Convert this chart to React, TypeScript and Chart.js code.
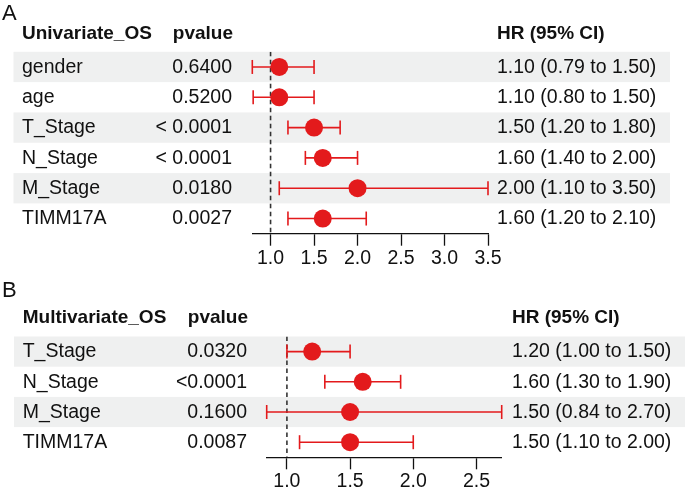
import React, { useEffect, useRef } from 'react';
import { Chart, registerables } from 'chart.js';
Chart.register(...registerables);

// ---------- Panel A data ----------
const labelsA = ['gender', 'age', 'T_Stage', 'N_Stage', 'M_Stage', 'TIMM17A'];
const pvaluesA = ['0.6400', '0.5200', '< 0.0001', '< 0.0001', '0.0180', '0.0027'];
const hrA = [1.1, 1.1, 1.5, 1.6, 2.0, 1.6];
const lowerA = [0.79, 0.8, 1.2, 1.4, 1.1, 1.2];
const upperA = [1.5, 1.5, 1.8, 2.0, 3.5, 2.1];
const tickValuesA = [1.0, 1.5, 2.0, 2.5, 3.0, 3.5];
const tickLabelsA = ['1.0', '1.5', '2.0', '2.5', '3.0', '3.5'];

// ---------- Panel B data ----------
const labelsB = ['T_Stage', 'N_Stage', 'M_Stage', 'TIMM17A'];
const pvaluesB = ['0.0320', '<0.0001', '0.1600', '0.0087'];
const hrB = [1.2, 1.6, 1.5, 1.5];
const lowerB = [1.0, 1.3, 0.84, 1.1];
const upperB = [1.5, 1.9, 2.7, 2.0];
const tickValuesB = [1.0, 1.5, 2.0, 2.5];
const tickLabelsB = ['1.0', '1.5', '2.0', '2.5'];

const RED = '#E31A1C';
const BAND = '#EFF0F0';
const TEXT = '#111111';
const FONT = '"Liberation Sans", Arial, Helvetica, sans-serif';

type PanelCfg = {
  letter: string;
  title: string;
  labels: string[];
  pvalues: string[];
  hr: number[];
  lower: number[];
  upper: number[];
  tickValues: number[];
  tickLabels: string[];
  width: number;
  height: number;
  padding: { left: number; right: number; top: number; bottom: number };
  labelX: number;
  pvalueRight: number;
  hrX: number;
  bandLeft: number;
  bandRight: number;
  letterBaseline: number;
  tickPadding: number;
};

const fmt = (v: number) => v.toFixed(2);

function buildChart(canvas: HTMLCanvasElement, p: PanelCfg) {
  const n = p.labels.length;
  const rows = p.labels.map((_, i) => i + 1);

  const whiskerSets = rows.map((r, i) => ({
    type: 'scatter' as const,
    data: [
      { x: p.lower[i], y: r },
      { x: p.upper[i], y: r },
    ],
    showLine: true,
    borderColor: RED,
    borderWidth: 1.6,
    pointStyle: 'line' as const,
    rotation: 90,
    pointRadius: 7,
    pointBorderWidth: 1.6,
    pointBorderColor: RED,
    clip: false as const,
    order: 1,
  }));

  const dotSet = {
    type: 'scatter' as const,
    data: rows.map((r, i) => ({ x: p.hr[i], y: r })),
    pointRadius: 9,
    pointBackgroundColor: RED,
    pointBorderWidth: 0,
    borderColor: RED,
    clip: false as const,
    order: 0,
  };

  const refSet = {
    type: 'scatter' as const,
    data: [
      { x: 1, y: 0.5 },
      { x: 1, y: n + 0.5 },
    ],
    showLine: true,
    borderColor: '#333333',
    borderWidth: 1.6,
    borderDash: [4.5, 3.5],
    pointRadius: 0,
    order: 2,
  };

  const tablePlugin = {
    id: 'forestTable' + p.letter,
    beforeDraw(chart: any) {
      const { ctx } = chart;
      const y = chart.scales.y;
      ctx.save();
      ctx.fillStyle = BAND;
      p.labels.forEach((_, i) => {
        if (i % 2 === 0) {
          const t = y.getPixelForValue(i + 0.5);
          const b = y.getPixelForValue(i + 1.5);
          ctx.fillRect(p.bandLeft, t, p.bandRight - p.bandLeft, b - t);
        }
      });
      ctx.restore();
    },
    afterDraw(chart: any) {
      const { ctx } = chart;
      const y = chart.scales.y;
      ctx.save();
      ctx.fillStyle = TEXT;
      // panel letter
      ctx.font = `22px ${FONT}`;
      ctx.textBaseline = 'alphabetic';
      ctx.textAlign = 'left';
      ctx.fillText(p.letter, 2, p.letterBaseline);
      // headers
      const hy = y.getPixelForValue(0.5) - 18.5;
      ctx.font = `bold 19px ${FONT}`;
      ctx.textBaseline = 'middle';
      ctx.textAlign = 'left';
      ctx.fillText(p.title, p.labelX, hy);
      ctx.fillText('HR (95% CI)', p.hrX, hy);
      ctx.textAlign = 'right';
      ctx.fillText('pvalue', p.pvalueRight + 1, hy);
      // rows
      ctx.font = `19.5px ${FONT}`;
      p.labels.forEach((lab, i) => {
        const ry = y.getPixelForValue(i + 1) + 0.5;
        ctx.textAlign = 'left';
        ctx.fillText(lab, p.labelX, ry);
        ctx.fillText(`${fmt(p.hr[i])} (${fmt(p.lower[i])} to ${fmt(p.upper[i])})`, p.hrX, ry);
        ctx.textAlign = 'right';
        ctx.fillText(p.pvalues[i], p.pvalueRight, ry);
      });
      ctx.restore();
    },
  };

  return new Chart(canvas, {
    type: 'scatter',
    data: { datasets: [dotSet, ...whiskerSets, refSet] as any },
    options: {
      responsive: false,
      animation: false,
      events: [],
      layout: { padding: p.padding },
      plugins: { legend: { display: false }, tooltip: { enabled: false } },
      scales: {
        x: {
          type: 'linear',
          min: Math.min(...p.lower),
          max: Math.max(...p.upper),
          afterBuildTicks: (s: any) => {
            s.ticks = p.tickValues.map((v) => ({ value: v }));
          },
          ticks: {
            callback: (_v: any, i: number) => p.tickLabels[i],
            font: { family: FONT, size: 19.5 },
            color: TEXT,
            padding: p.tickPadding,
            maxRotation: 0,
            autoSkip: false,
          },
          grid: {
            drawOnChartArea: false,
            drawTicks: true,
            tickLength: 12,
            tickColor: '#111111',
            tickWidth: 1.3,
          },
          border: { display: true, color: '#111111', width: 1.3 },
        },
        y: {
          type: 'linear',
          min: 0.5,
          max: n + 0.5,
          reverse: true,
          display: false,
        },
      },
    },
    plugins: [tablePlugin],
  } as any);
}

const panelA: PanelCfg = {
  letter: 'A',
  title: 'Univariate_OS',
  labels: labelsA,
  pvalues: pvaluesA,
  hr: hrA,
  lower: lowerA,
  upper: upperA,
  tickValues: tickValuesA,
  tickLabels: tickLabelsA,
  width: 685,
  height: 272,
  padding: { left: 252.3, right: 197, top: 51.8, bottom: 0.9 },
  labelX: 22,
  pvalueRight: 232,
  hrX: 497,
  bandLeft: 13.5,
  bandRight: 670,
  letterBaseline: 20,
  tickPadding: 1,
};

const panelB: PanelCfg = {
  letter: 'B',
  title: 'Multivariate_OS',
  labels: labelsB,
  pvalues: pvaluesB,
  hr: hrB,
  lower: lowerB,
  upper: upperB,
  tickValues: tickValuesB,
  tickLabels: tickLabelsB,
  width: 685,
  height: 230,
  padding: { left: 266.7, right: 183.3, top: 64.5, bottom: 7.3 },
  labelX: 22.7,
  pvalueRight: 247,
  hrX: 512,
  bandLeft: 14,
  bandRight: 685,
  letterBaseline: 24.7,
  tickPadding: 1,
};

function ForestCanvas({ cfg, top }: { cfg: PanelCfg; top: number }) {
  const ref = useRef<HTMLCanvasElement | null>(null);
  useEffect(() => {
    if (!ref.current) return;
    const chart = buildChart(ref.current, cfg);
    return () => chart.destroy();
  }, [cfg]);
  return (
    <canvas
      ref={ref}
      width={cfg.width}
      height={cfg.height}
      style={{ position: 'absolute', left: 0, top, width: cfg.width, height: cfg.height }}
    />
  );
}

export default function App() {
  return (
    <div
      style={{
        position: 'absolute',
        left: 0,
        top: 0,
        width: 685,
        height: 491,
        overflow: 'hidden',
        background: '#ffffff',
      }}
    >
      <ForestCanvas cfg={panelA} top={0} />
      <ForestCanvas cfg={panelB} top={272} />
    </div>
  );
}
